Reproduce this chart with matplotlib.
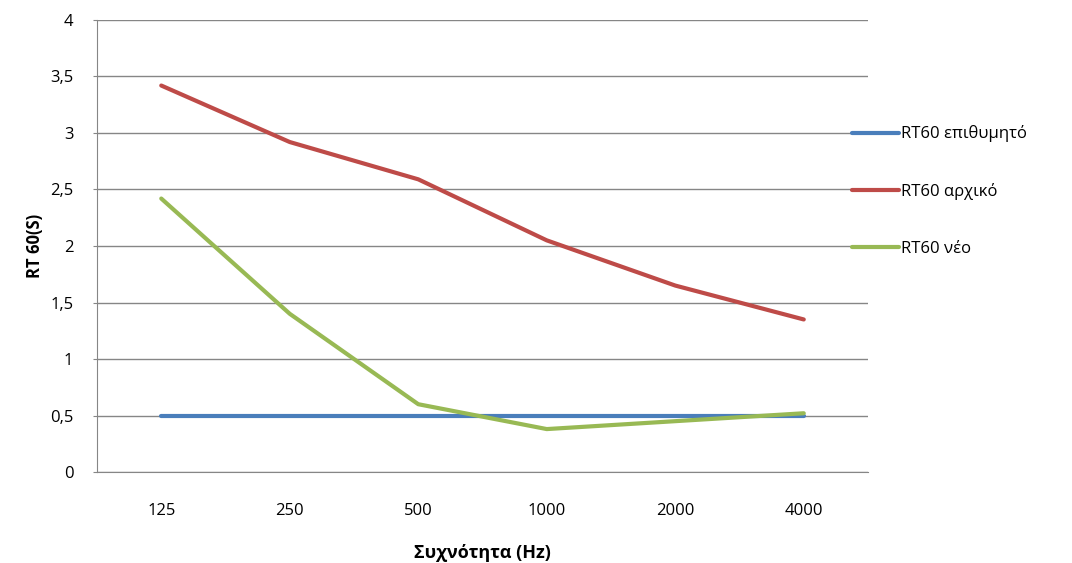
import matplotlib.pyplot as plt
from matplotlib.ticker import FuncFormatter

plt.rcParams['font.family'] = ['Open Sans', 'DejaVu Sans']

# data
freqs = ['125', '250', '500', '1000', '2000', '4000']
rt60_target = [0.5, 0.5, 0.5, 0.5, 0.5, 0.5]
rt60_initial = [3.42, 2.92, 2.59, 2.05, 1.65, 1.35]
rt60_new = [2.42, 1.40, 0.60, 0.38, 0.45, 0.52]

fig = plt.figure(figsize=(10.72, 5.63), dpi=100)
ax = fig.add_axes([0.0905, 0.1616, 0.7192, 0.8029])

x = range(len(freqs))
ax.plot(x, rt60_target, color='#4A7EBB', lw=3, label='RT60 επιθυμητό', solid_capstyle='round')
ax.plot(x, rt60_initial, color='#BE4B48', lw=3, label='RT60 αρχικό', solid_capstyle='round')
ax.plot(x, rt60_new, color='#98B954', lw=3, label='RT60 νέο', solid_capstyle='round')

ax.set_xlim(-0.5, len(freqs) - 0.5)
ax.set_ylim(0, 4)
ax.set_xticks(list(x))
ax.set_xticklabels(freqs)
ax.set_yticks([i * 0.5 for i in range(9)])
ax.yaxis.set_major_formatter(FuncFormatter(lambda v, p: ('%g' % v).replace('.', ',')))
ax.grid(axis='y', color='#868686', lw=1)
ax.set_axisbelow(True)
for s in ['top', 'right']:
    ax.spines[s].set_visible(False)
for s in ['left', 'bottom']:
    ax.spines[s].set_color('#868686')
ax.tick_params(axis='y', length=3, color='#868686', labelsize=12, pad=14)
ax.tick_params(axis='x', length=0, labelsize=12, pad=22)

ax.set_xlabel('Συχνότητα (Hz)', fontsize=13, fontweight='bold', labelpad=18)
ax.set_ylabel('RT 60(S)', fontsize=12, fontweight='bold', labelpad=4)

ax.legend(loc='upper left', bbox_to_anchor=(0.96, 0.80), frameon=False, fontsize=12,
          handlelength=2.8, handletextpad=0.15, labelspacing=2.45)

plt.savefig('out.png')
